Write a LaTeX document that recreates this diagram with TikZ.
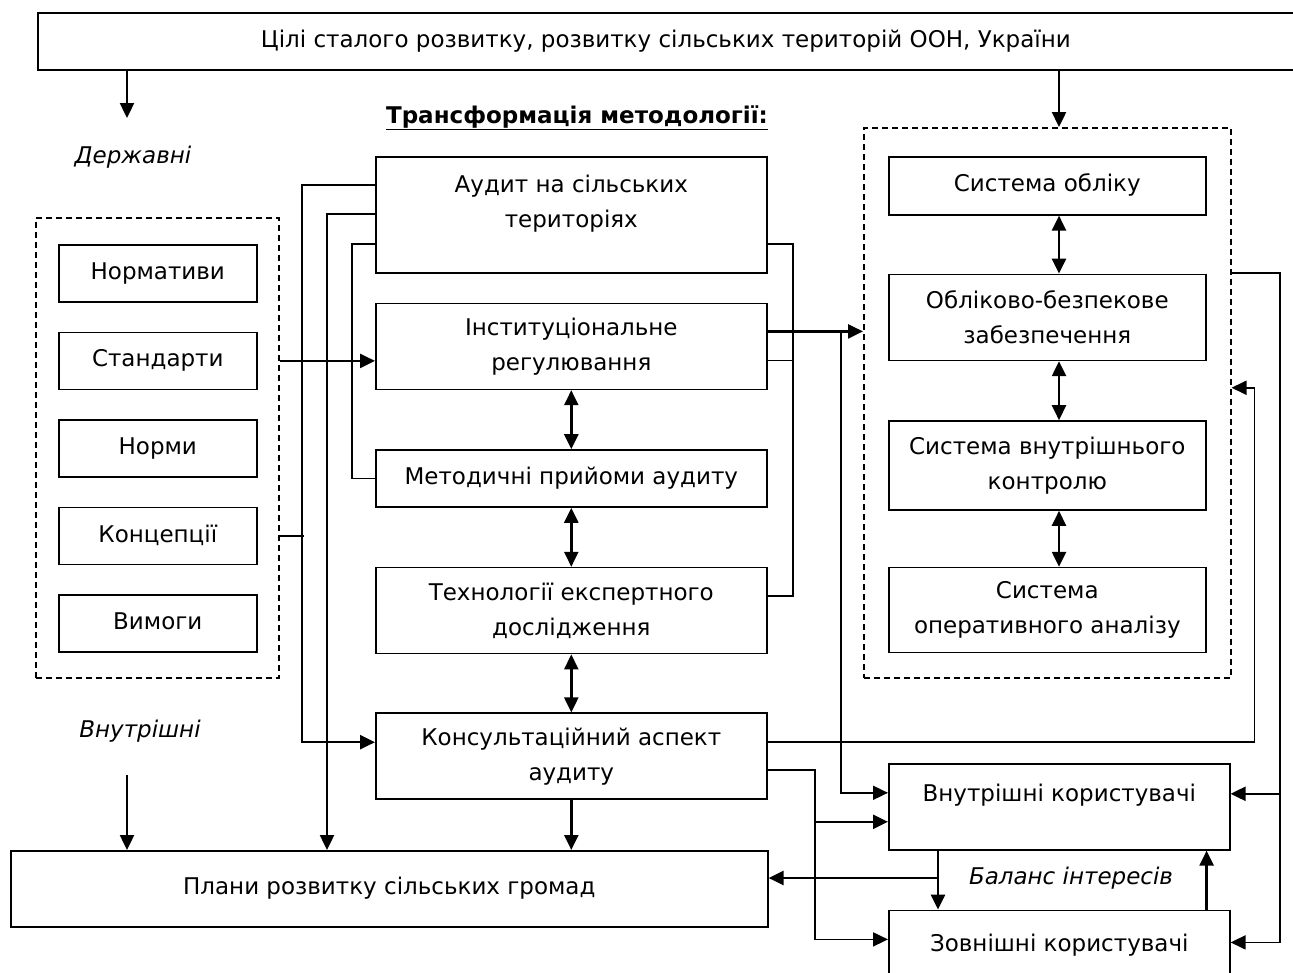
\documentclass[tikz,border=0pt]{standalone}
\usepackage{fontspec}
\setmainfont{DejaVu Sans}
\usetikzlibrary{positioning,arrows.meta}
\tikzset{
  blk/.style={
    rectangle,
    draw=black,
    line width=1.6pt,
    fill=white,
    align=center,
    inner sep=0pt,
    font=\fontsize{23}{35}\selectfont
  },
  onetxt/.style={text height=17pt,text depth=5pt},
  txt/.style={align=center,inner sep=0pt,font=\fontsize{23}{35}\selectfont},
  lbl/.style={txt,font=\fontsize{23}{35}\selectfont\itshape},
  ttl/.style={txt,font=\fontsize{23}{35}\selectfont\bfseries},
  grp/.style={rectangle,draw=black,line width=1.5pt,dash pattern=on 6pt off 4pt,inner sep=0pt},
  lnk/.style={line width=1.8pt,draw=black},
  arr/.style={-{Triangle[length=15pt,width=14pt]},line width=2.4pt,draw=black},
  darr/.style={{Triangle[length=15pt,width=14pt]}-{Triangle[length=15pt,width=14pt]},line width=2.4pt,draw=black},
}
\begin{document}
\begin{tikzpicture}[x=1pt,y=-1pt]
  \useasboundingbox (0,0) rectangle (1293,972);

  % goals on top
  \node[blk,onetxt,minimum width=1256pt,minimum height=57pt,anchor=north west] (goals) at (37,12)
    {Цілі сталого розвитку, розвитку сільських територій ООН, України};

  % state regulation group
  \node[grp,minimum width=243pt,minimum height=460pt,anchor=north west] (norms) at (35,217) {};
  \node[blk,onetxt,minimum width=198pt,minimum height=57pt,anchor=north west] (normatyvy) at (58,244) {Нормативи};
  \node[blk,onetxt,minimum width=198pt,minimum height=57pt,below=29pt of normatyvy] (standarty) {Стандарти};
  \node[blk,onetxt,minimum width=198pt,minimum height=57pt,below=29pt of standarty] (normy) {Норми};
  \node[blk,onetxt,minimum width=198pt,minimum height=57pt,below=29pt of normy] (kontseptsii) {Концепції};
  \node[blk,onetxt,minimum width=198pt,minimum height=57pt,below=29pt of kontseptsii] (vymohy) {Вимоги};

  % methodology column
  \node[ttl] (transform) at (577,118) {\underline{Трансформація методології:}};
  \node[blk,minimum width=391pt,minimum height=116pt,anchor=north west] (audit) at (375,156) {};
  \node[txt,below=19pt of audit.north] (audittxt) {Аудит на сільських\\територіях};
  \node[blk,minimum width=391pt,minimum height=86pt,below=29pt of audit] (inst) {Інституціональне\\регулювання};
  \node[blk,onetxt,minimum width=391pt,minimum height=57pt,below=59pt of inst] (method) {Методичні прийоми аудиту};
  \node[blk,minimum width=391pt,minimum height=86pt,below=59pt of method] (tech) {Технології експертного\\дослідження};
  \node[blk,minimum width=391pt,minimum height=86pt,below=58pt of tech] (consult) {Консультаційний аспект\\аудиту};
  \node[blk,onetxt,minimum width=757pt,minimum height=76pt,anchor=north west] (plans) at (10,850)
    {Плани розвитку сільських громад};

  % accounting group
  \node[grp,minimum width=367pt,minimum height=550pt,anchor=north west] (accsys) at (863,127) {};
  \node[blk,onetxt,minimum width=317pt,minimum height=58pt,anchor=north west] (oblik) at (888,156) {Система обліку};
  \node[blk,minimum width=317pt,minimum height=86pt,below=58pt of oblik] (bezpeka) {Обліково-безпекове\\забезпечення};
  \node[blk,minimum width=317pt,minimum height=89pt,below=59pt of bezpeka] (control) {Система внутрішнього\\контролю};
  \node[blk,minimum width=317pt,minimum height=85pt,below=56pt of control] (analysis) {Система\\оперативного аналізу};

  % users
  \node[blk,text height=17pt,text depth=27pt,minimum width=341pt,minimum height=86pt,anchor=north west] (intusers) at (888,763)
    {Внутрішні користувачі};
  \node[blk,onetxt,minimum width=341pt,minimum height=70pt,below=59pt of intusers] (extusers) {Зовнішні користувачі};

  % side labels
  \node[lbl] (state) at (133,157) {Державні};
  \node[lbl] (internal) at (140,731) {Внутрішні};
  \node[lbl] (balance) at (1071,878) {Баланс інтересів};

  % arrows from the goals
  \coordinate (stateend) at (127,118);
  \coordinate (rcol) at (1059,0);
  \coordinate (internalstart) at (127,775);
  \draw[arr] (goals.south -| stateend) -- (stateend);
  \draw[arr] (goals.south -| rcol) -- (accsys.north -| rcol);
  \draw[arr] (internalstart) -- (plans.north -| internalstart);

  % left buses
  \draw[arr] ([yshift=30pt]audit.west) -- ++(-73,0) |- ([yshift=14pt]consult.west);
  \draw[lnk] (kontseptsii -| norms.east) -- ++(24,0);
  \draw[arr] ([yshift=1pt]audit.west) -- ++(-48,0) coordinate (busb) -- (busb |- plans.north);
  \draw[lnk] ([yshift=-29pt]audit.west) -- ++(-23,0) |- (method.west);
  \draw[arr] (standarty -| norms.east) -- (standarty -| inst.west);

  % methodology chain
  \draw[darr] (inst) -- (method);
  \draw[darr] (method) -- (tech);
  \draw[darr] (tech) -- (consult);
  \draw[arr] (consult.south) -- (consult.south |- plans.north);

  % right bracket
  \draw[lnk] ([yshift=-29pt]audit.east) -- ++(25,0) |- ([yshift=15pt]tech.east);
  \draw[lnk] ([yshift=-14pt]inst.east) -- ++(25,0);
  \draw[arr] ([yshift=15pt]inst.east) -- ([yshift=15pt]inst.east -| accsys.west);
  \draw[lnk,-{Triangle[length=15pt,width=14pt]}] ([yshift=15pt]inst.east) ++(73,0) |- ([yshift=14pt]intusers.west);

  % consultation outputs
  \draw[lnk,-{Triangle[length=15pt,width=14pt]}] ([yshift=14pt]consult.east) -| ([xshift=23pt,yshift=15pt]accsys.east) -- ([yshift=15pt]accsys.east);
  \draw[lnk,-{Triangle[length=15pt,width=14pt]}] ([yshift=-14pt]consult.east) -| ([xshift=-73pt,yshift=6pt]extusers.west) -- ([yshift=6pt]extusers.west);
  \draw[arr] ([xshift=-73pt,yshift=-15pt]intusers.west) -- ([yshift=-15pt]intusers.west);

  % accounting to users
  \draw[lnk,-{Triangle[length=15pt,width=14pt]}] ([yshift=130pt]accsys.east) -| ([xshift=49pt,yshift=3pt]extusers.east) -- ([yshift=3pt]extusers.east);
  \draw[arr] ([xshift=49pt,yshift=13pt]intusers.east) -- ([yshift=13pt]intusers.east);

  % accounting chain
  \draw[darr] (oblik.south -| rcol) -- (bezpeka.north -| rcol);
  \draw[darr] (bezpeka.south -| rcol) -- (control.north -| rcol);
  \draw[darr] (control.south -| rcol) -- (analysis.north -| rcol);

  % balance of interests
  \coordinate (bal) at (938,878);
  \draw[arr] (intusers.south -| bal) -- (extusers.north -| bal);
  \draw[arr] (bal) -- (bal -| plans.east);
  \draw[arr] (extusers.north -| oblik.east) -- (intusers.south -| oblik.east);
\end{tikzpicture}
\end{document}
